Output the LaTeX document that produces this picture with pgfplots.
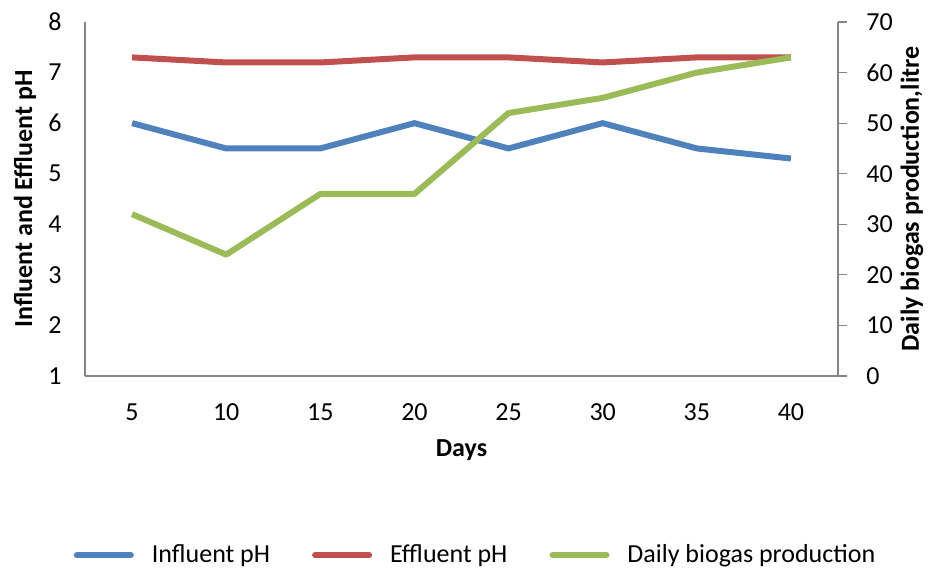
\documentclass[border=0pt]{standalone}
\usepackage{pgfplots}
\pgfplotsset{compat=1.18}
\usepackage{fontspec}
\setmainfont{Carlito}
\definecolor{cblue}{HTML}{4F81BD}
\definecolor{cred}{HTML}{C0504D}
\definecolor{cgreen}{HTML}{9BBB59}
\definecolor{cax}{HTML}{868686}
\begin{document}
\begin{tikzpicture}
\useasboundingbox (-42.5pt,-95.5pt) rectangle (422.5pt,188pt);
\pgfplotsset{
  base/.style={
    at={(0,0)}, anchor=south west, scale only axis,
    width=376.5pt, height=177pt,
    xmin=-0.5, xmax=7.5,
    axis line style={draw=cax, line width=0.6pt, -},
    tick label style={font=\fontsize{13}{15}\selectfont, text=black},
    label style={font=\fontsize{13}{15}\selectfont\bfseries},
    /pgf/number format/assume math mode=true,
  }
}
\begin{axis}[base,
  axis x line*=bottom, axis y line*=left,
  ymin=1, ymax=8, ytick={1,...,8},
  xtick={0,...,7}, xticklabels={5,10,15,20,25,30,35,40},
  major tick length=0pt,
  xticklabel style={anchor=center, yshift=-18pt, inner sep=0pt},
  yticklabel style={anchor=east, xshift=-11.5pt, inner sep=0pt},
  xlabel={Days}, ylabel={Influent and Effluent pH},
  xlabel style={at={(rel axis cs:0.5,0)}, anchor=center, yshift=-37pt},
  ylabel style={at={(rel axis cs:0,0.5)}, anchor=center, yshift=30pt},
  legend style={at={(0.52,-0.506)}, anchor=center, draw=none, fill=none,
    legend columns=3, font=\fontsize{13}{15}\selectfont,
    /tikz/every even column/.append style={column sep=19pt},
    /tikz/every odd column/.append style={column sep=7pt},
    legend cell align=left},
  legend image code/.code={\draw[#1, line cap=round] (0pt,0pt) -- (27pt,0pt);},
]
\addplot[cblue, line width=3pt, line join=round] coordinates {
(0,6) (1,5.5) (2,5.5) (3,6) (4,5.5) (5,6) (6,5.5) (7,5.3)};
\addlegendentry{Influent pH}
\addplot[cred, line width=3pt, line join=round] coordinates {
(0,7.3) (1,7.2) (2,7.2) (3,7.3) (4,7.3) (5,7.2) (6,7.3) (7,7.3)};
\addlegendentry{Effluent pH}
\addlegendimage{cgreen, line width=3pt}
\addlegendentry{Daily biogas production}
\end{axis}
\begin{axis}[base,
  axis x line=none, axis y line*=right,
  ymin=0, ymax=70, ytick={0,10,...,70},
  tick align=outside, major tick length=4.5pt,
  ytick style={draw=cax, line width=0.6pt},
  yticklabel style={anchor=west, xshift=9.5pt, inner sep=0pt},
  ylabel={Daily biogas production,litre},
  ylabel style={at={(rel axis cs:1,0.5)}, anchor=center, yshift=-37pt},
]
\addplot[cgreen, line width=3pt, line join=round] coordinates {
(0,32) (1,24) (2,36) (3,36) (4,52) (5,55) (6,60) (7,63)};
\end{axis}
\end{tikzpicture}
\end{document}
